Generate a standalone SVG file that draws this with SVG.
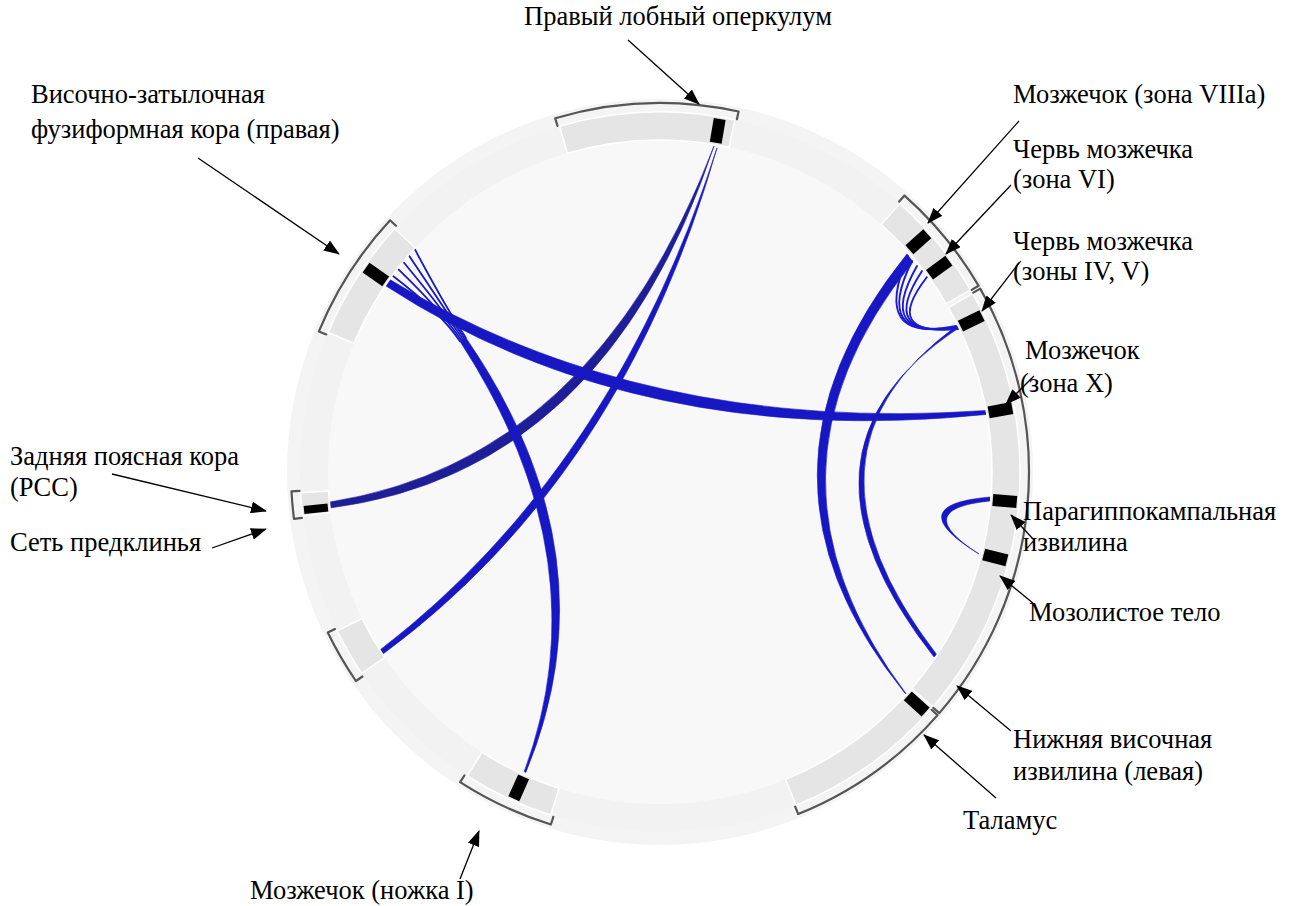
<svg xmlns="http://www.w3.org/2000/svg" width="1295" height="906" viewBox="0 0 1295 906">
<style>
.seg{fill:#e5e5e5;stroke:#ffffff;stroke-width:1.5}
.mark{fill:#000000}
.brk{fill:none;stroke:#555555;stroke-width:2.2;stroke-linejoin:round;stroke-linecap:round}
.rib{fill:#1717c4;stroke:#1717c4;stroke-width:0.6}
.dark{fill:#1e1e98;stroke:#1e1e98;stroke-width:0.6}
.str{fill:none;stroke:#1717c4;stroke-width:1.8;stroke-linecap:round}
.hk{fill:none;stroke:#1a1ad0;stroke-width:1.9;stroke-linecap:round}
.lbl{font-family:"Liberation Serif","Times New Roman",serif;font-size:26.5px;fill:#000000}
.arr{stroke:#000000;stroke-width:1.3;fill:none;marker-end:url(#ah)}
</style>
<defs>
<marker id="ah" markerWidth="16" markerHeight="12" refX="15" refY="6" orient="auto" markerUnits="userSpaceOnUse">
<path d="M0,0 L16,6 L0,12 Z" fill="#000000"/>
</marker>
</defs>
<rect width="1295" height="906" fill="#ffffff"/>
<g id="background">
<circle cx="660" cy="472" r="373" fill="#f4f4f4"/>
<circle cx="660" cy="472" r="346" fill="none" stroke="#f2f2f2" stroke-width="28"/>
<circle cx="660" cy="472" r="332" fill="#f8f8f8"/>
</g>
<g id="connectors">
<path class="dark" d="M714,146 Q606,472 330,508 L330,502 Q594,460 714,146 Z"/>
<path class="rib" d="M717,148 Q623,477 383,654 L380,650 Q613,471 717,148 Z"/>
<path class="rib" d="M389,279 Q641.7,434.2 986,410.5 L986,414.5 Q638.3,449.8 386,286 Z"/>
<path class="rib" d="M465.7,337.4 Q615.9,555.7 525.8,772.4 L524.2,771.6 Q602.5,559.9 459.9,341.2 Z"/>
<path class="str" d="M414.8,249.2 Q446.2,308.3 465.7,337.4"/>
<path class="str" d="M409.1,255.7 Q444.7,309.2 464.25,338.3"/>
<path class="str" d="M403.6,262.3 Q443.3,310.2 462.8,339.3"/>
<path class="str" d="M398.2,269.1 Q441.8,311.2 461.35,340.3"/>
<path class="str" d="M393,276 Q440.4,312.1 459.9,341.2"/>
<path class="rib" d="M913,262 Q741,475 907,695 L904,692 Q729,475 907,254 Z"/>
<path class="rib" d="M958,325 Q781,452 937,655 L934,657 Q773,452 957,329 Z"/>
<path class="hk" d="M908,256 Q870,344 956,326"/>
<path class="hk" d="M912,261 Q872,342 957,327"/>
<path class="hk" d="M917,266 Q875,340 957,327"/>
<path class="hk" d="M922,271 Q878,338 958,328"/>
<path class="hk" d="M927,277 Q881,336 958,329"/>
<path class="rib" d="M990,497 Q899,505 979,554 Q909,509 990,501 Z"/>
</g>
<g id="node-top">
<path class="seg" d="M559.6,126.3 A360,360 0 0 1 734.8,119.9 L729.0,147.3 A332,332 0 0 0 567.4,153.2 Z"/>
<rect class="mark" x="-6" y="-358" width="12" height="24" transform="translate(660,472) rotate(9.6)"/>
<path class="brk" d="M557.5,125.9 L555.2,118.2 A369,369 0 0 1 738.6,111.5 L736.9,119.3"/>
</g>
<g id="node-fusiform">
<path class="seg" d="M328.1,332.5 A360,360 0 0 1 394.6,228.8 L415.2,247.7 A332,332 0 0 0 353.9,343.3 Z"/>
<rect class="mark" x="-6" y="-358" width="12" height="24" transform="translate(660,472) rotate(-55.2)"/>
<path class="brk" d="M326.3,334.4 L318.9,331.4 A369,369 0 0 1 390.1,220.3 L396.0,225.8"/>
</g>
<g id="node-pcc">
<path class="seg" d="M302.7,515.9 A360,360 0 0 1 300.6,492.7 L328.6,491.1 A332,332 0 0 0 330.5,512.5 Z"/>
<rect class="mark" x="-4" y="-358" width="8" height="24" transform="translate(660,472) rotate(-96.1)"/>
<path class="brk" d="M301.9,517.9 L294.0,518.9 A369,369 0 0 1 291.5,491.3 L299.5,490.9"/>
</g>
<g id="node-lowerleft">
<path class="seg" d="M361.6,673.3 A360,360 0 0 1 337.0,630.9 L362.1,618.6 A332,332 0 0 0 384.8,657.7 Z"/>
<path class="brk" d="M362.5,676.5 L355.9,681.0 A369,369 0 0 1 327.8,632.6 L335.0,629.1"/>
</g>
<g id="node-bottom">
<path class="seg" d="M550.6,815.0 A360,360 0 0 1 467.1,776.0 L482.1,752.3 A332,332 0 0 0 559.1,788.3 Z"/>
<rect class="mark" x="-6" y="-358" width="12" height="24" transform="translate(660,472) rotate(204.1)"/>
<path class="brk" d="M553.3,816.9 L550.9,824.5 A369,369 0 0 1 460.1,782.2 L464.4,775.5"/>
</g>
<g id="node-right-a">
<path class="seg" d="M899.9,203.6 A360,360 0 0 1 970.5,289.8 L946.4,304.0 A332,332 0 0 0 881.3,224.5 Z"/>
<rect class="mark" x="-6" y="-358" width="12" height="24" transform="translate(660,472) rotate(48.3)"/>
<rect class="mark" x="-6" y="-358" width="12" height="24" transform="translate(660,472) rotate(53.8)"/>
<path class="brk" d="M899.2,201.6 L904.5,195.6 A369,369 0 0 1 978.6,285.8 L971.7,289.9"/>
</g>
<g id="node-right-b">
<path class="seg" d="M972.7,293.6 A360,360 0 0 1 932.9,706.8 L911.7,688.5 A332,332 0 0 0 948.4,307.5 Z"/>
<rect class="mark" x="-6" y="-358" width="12" height="24" transform="translate(660,472) rotate(64.1)"/>
<rect class="mark" x="-6" y="-358" width="12" height="24" transform="translate(660,472) rotate(79.7)"/>
<rect class="mark" x="-6" y="-358" width="12" height="24" transform="translate(660,472) rotate(94.8)"/>
<rect class="mark" x="-6" y="-358" width="12" height="24" transform="translate(660,472) rotate(104.3)"/>
<path class="brk" d="M973.3,292.6 L980.2,288.6 A369,369 0 0 1 939.3,713.1 L933.3,707.9"/>
</g>
<g id="node-right-c">
<path class="seg" d="M931.3,708.7 A360,360 0 0 1 796.0,805.3 L785.4,779.4 A332,332 0 0 0 910.2,690.3 Z"/>
<rect class="mark" x="-6" y="-358" width="12" height="24" transform="translate(660,472) rotate(132.1)"/>
<path class="brk" d="M931.6,709.8 L937.6,715.1 A369,369 0 0 1 798.2,814.1 L795.2,806.7"/>
</g>
<g id="labels">
<g id="lbl-operculum"><text class="lbl" x="524" y="25">Правый лобный оперкулум</text><line class="arr" x1="628" y1="40" x2="699" y2="104"/></g>
<g id="lbl-fusiform"><text class="lbl" x="31" y="103">Височно-затылочная</text><text class="lbl" x="31" y="138">фузиформная кора (правая)</text><line class="arr" x1="198" y1="158" x2="339" y2="254"/></g>
<g id="lbl-pcc"><text class="lbl" x="10" y="465">Задняя поясная кора</text><text class="lbl" x="10" y="496">(PCC)</text><line class="arr" x1="112" y1="474" x2="266" y2="511"/></g>
<g id="lbl-precuneus"><text class="lbl" x="10" y="551">Сеть предклинья</text><line class="arr" x1="212" y1="548" x2="266" y2="529"/></g>
<g id="lbl-peduncle"><text class="lbl" x="250" y="899">Мозжечок (ножка I)</text><line class="arr" x1="460" y1="879" x2="479" y2="831"/></g>
<g id="lbl-thalamus"><text class="lbl" x="963" y="829">Таламус</text><line class="arr" x1="996" y1="798" x2="924" y2="735"/></g>
<g id="lbl-itg"><text class="lbl" x="1013" y="748">Нижняя височная</text><text class="lbl" x="1013" y="780">извилина (левая)</text><line class="arr" x1="1011" y1="731" x2="957" y2="686"/></g>
<g id="lbl-cc"><text class="lbl" x="1029" y="621">Мозолистое тело</text><line class="arr" x1="1034" y1="604" x2="1000" y2="576"/></g>
<g id="lbl-phg"><text class="lbl" x="1023" y="520">Парагиппокампальная</text><text class="lbl" x="1023" y="551">извилина</text><line class="arr" x1="1034" y1="540" x2="1011" y2="515"/></g>
<g id="lbl-cbx"><text class="lbl" x="1025" y="359">Мозжечок</text><text class="lbl" x="1020" y="392">(зона X)</text><line class="arr" x1="1034" y1="376" x2="1006" y2="404"/></g>
<g id="lbl-vermis45"><text class="lbl" x="1013" y="250">Червь мозжечка</text><text class="lbl" x="1013" y="280">(зоны IV, V)</text><line class="arr" x1="1019" y1="263" x2="982" y2="311"/></g>
<g id="lbl-vermis6"><text class="lbl" x="1013" y="158">Червь мозжечка</text><text class="lbl" x="1013" y="188">(зона VI)</text><line class="arr" x1="1011" y1="185" x2="946" y2="254"/></g>
<g id="lbl-cb8"><text class="lbl" x="1013" y="103">Мозжечок (зона VIIIa)</text><line class="arr" x1="1019" y1="121" x2="928" y2="223"/></g>
</g>
</svg>
